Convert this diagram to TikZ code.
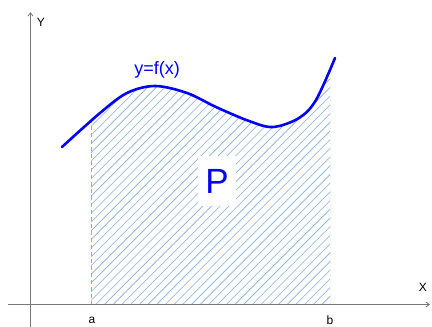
\documentclass[tikz,border=0pt]{standalone}
\usepackage{fontspec}
\setmainfont{Liberation Sans}
\usetikzlibrary{arrows.meta}
\definecolor{axisgray}{RGB}{120,120,120}
\definecolor{hatchblue}{RGB}{130,175,224}
\tikzset{
  axis/.style={draw=axisgray, line width=0.8pt, -{Straight Barb[length=3.5pt,width=5pt]}},
  curve/.style={draw=blue, line width=2.6pt, line cap=round},
  hatch/.style={draw=hatchblue, line width=0.6pt},
  bound/.style={draw=hatchblue, line width=0.7pt, dash pattern=on 4pt off 3pt},
  lbl/.style={font=\fontsize{12}{14}\selectfont, inner sep=0pt},
}
\begin{document}
\begin{tikzpicture}[x=1pt,y=-1pt]
\useasboundingbox (0,0) rectangle (432,327);
\fill[white] (0,0) rectangle (432,327);
\def\curvepath{plot[smooth, tension=0.55] coordinates {(62,147) (100,113) (127,93) (155,86) (187,93) (216,107) (249,121) (273,127) (299,118) (316,100) (335,58)}}
% hatched region
\begin{scope}
  \clip (91,0) rectangle (330,304.5);
  \clip \curvepath -- (335,304.5) -- (62,304.5) -- cycle;
  \foreach \i in {-40,...,45} {
    \draw[hatch] (\i*8.7,304.5) -- ++(320,-320);
  }
  \draw[bound] (91,304.5) -- (91,0);
  \draw[bound] (330,304.5) -- (330,0);
\end{scope}
% axes
\coordinate (xs) at (8,304.5);
\coordinate (xe) at (430,304.5);
\coordinate (ys) at (30.5,327);
\coordinate (ye) at (30.5,12);
\draw[axis] (xs) -- (xe);
\draw[axis] (ys) -- (ye);
\node[lbl] (Y) at (41,22) {Y};
\node[lbl] (X) at (423,287) {X};
\node[lbl] (a) at (92,320) {a};
\node[lbl] (b) at (330,320) {b};
% curve
\draw[curve] \curvepath;
\node[text=blue, font=\fontsize{18}{20}\selectfont, inner sep=0pt] (f) at (157,70) {y=f(x)};
\node[fill=white, text=blue, font=\fontsize{35}{40}\selectfont, minimum width=38pt, minimum height=50pt, inner sep=0pt] (P) at (217,181) {P};
\end{tikzpicture}
\end{document}
